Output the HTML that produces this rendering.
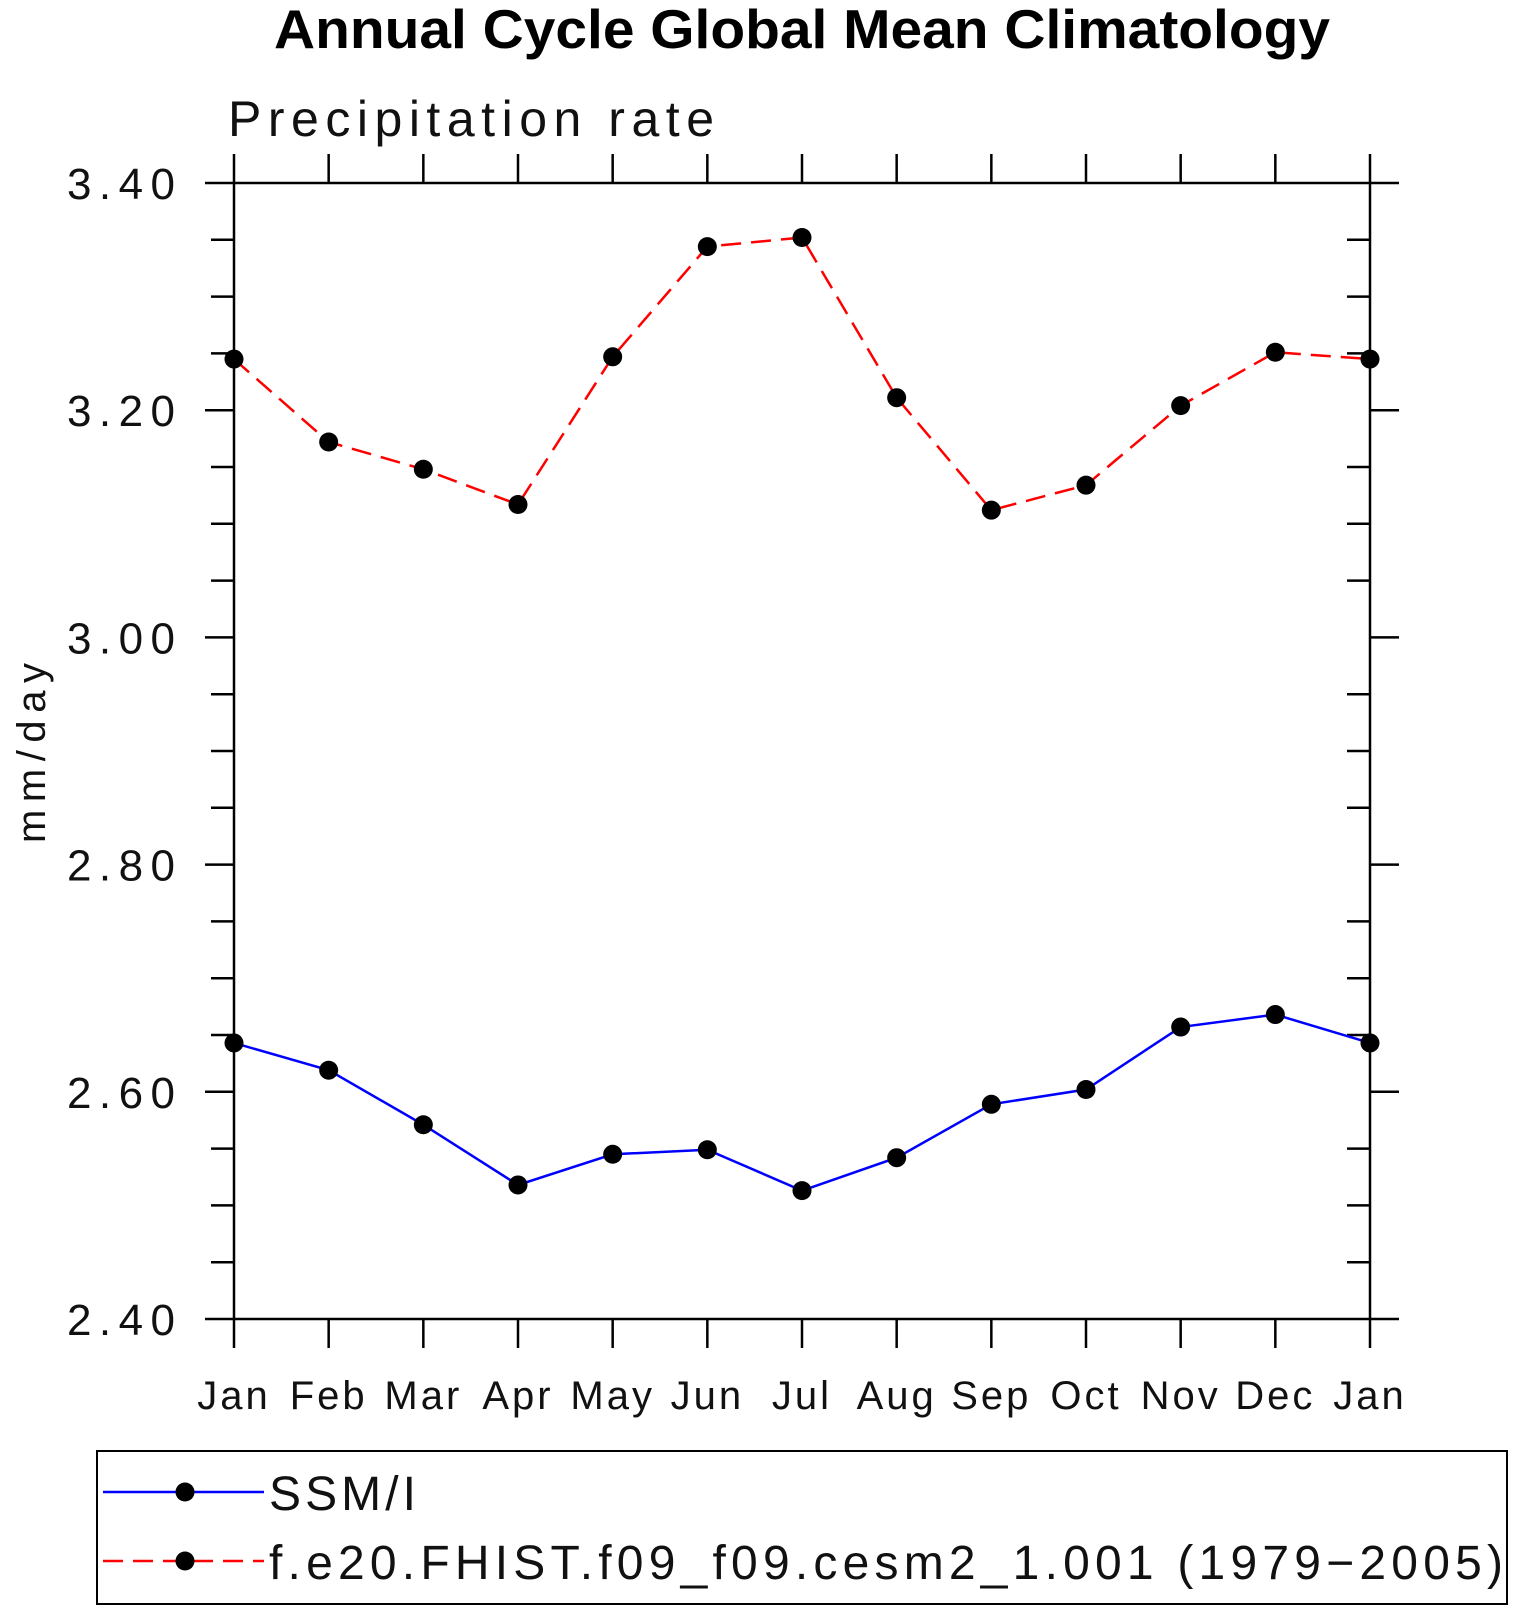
<!DOCTYPE html>
<html><head><meta charset="utf-8"><style>
body{margin:0;background:#fff}
svg{display:block}
text{font-family:"Liberation Sans",sans-serif}
</style></head><body>
<svg id="chart" width="1514" height="1609" viewBox="0 0 1514 1609">
<text x="274" y="48" font-size="55" font-weight="bold" textLength="1056" lengthAdjust="spacingAndGlyphs">Annual Cycle Global Mean Climatology</text>
<text x="228" y="136" font-size="50" fill="#111" textLength="486" lengthAdjust="spacing">Precipitation rate</text>
<text transform="translate(45,753) rotate(-90)" text-anchor="middle" font-size="40" fill="#111" textLength="180" lengthAdjust="spacing">mm/day</text>
<g id="axes"></g>
<g id="series"></g>
<rect x="97" y="1451" width="1410" height="153" fill="none" stroke="#000" stroke-width="2"/>
<g>
<line x1="103" y1="1492" x2="264" y2="1492" stroke="#0000ff" stroke-width="2.5"/>
<circle cx="185" cy="1492" r="9.5" fill="#000"/>
<text x="269" y="1510" font-size="48" fill="#111" textLength="147" lengthAdjust="spacing">SSM/I</text>
</g>
<g>
<line x1="103" y1="1561" x2="264" y2="1561" stroke="#ff0000" stroke-width="2.5" stroke-dasharray="20,10"/>
<circle cx="185" cy="1561" r="9.5" fill="#000"/>
<text x="269" y="1579" font-size="48" fill="#111" textLength="1234" lengthAdjust="spacing">f.e20.FHIST.f09_f09.cesm2_1.001 (1979−2005)</text>
</g>
</svg>
<script>
const months = ["Jan","Feb","Mar","Apr","May","Jun","Jul","Aug","Sep","Oct","Nov","Dec","Jan"];
const ssmiValues = [2.643,2.619,2.571,2.518,2.545,2.549,2.513,2.542,2.589,2.602,2.657,2.668,2.643];
const cesmValues = [3.245,3.172,3.148,3.117,3.247,3.344,3.352,3.211,3.112,3.134,3.204,3.251,3.245];
const yTickLabels = ["2.40","2.60","2.80","3.00","3.20","3.40"];
const yMin = 2.4, yMax = 3.4;

const L=234,R=1370,T=183,B=1319;
const NS="http://www.w3.org/2000/svg";
function xs(i){return L+(R-L)*i/(months.length-1);}
function ys(v){return B-(B-T)*(v-yMin)/(yMax-yMin);}
function mk(tag,attrs,parent){const e=document.createElementNS(NS,tag);for(const k in attrs)e.setAttribute(k,attrs[k]);parent.appendChild(e);return e;}
const ax=document.getElementById('axes');
const frame=mk('rect',{x:L,y:T,width:R-L,height:B-T,fill:'none',stroke:'#000','stroke-width':2.5},ax);


for(let k=0;k<=20;k++){
  const v=yMin+k*0.05, y=ys(v), major=k%4===0;
  mk('line',{x1:major?L-29:L-23,y1:y,x2:L,y2:y,stroke:'#000','stroke-width':2.5},ax);
  if(major) mk('line',{x1:R,y1:y,x2:R+29,y2:y,stroke:'#000','stroke-width':2.5},ax);
  else mk('line',{x1:R-23,y1:y,x2:R,y2:y,stroke:'#000','stroke-width':2.5},ax);
}
yTickLabels.forEach(s=>{
  const t=mk('text',{x:67,y:ys(parseFloat(s))+16,'font-size':44,fill:'#111',textLength:108,lengthAdjust:'spacing'},ax);
  t.textContent=s;
  
  
});
months.forEach((m,i)=>{
  const x=xs(i);
  mk('line',{x1:x,y1:B,x2:x,y2:B+29,stroke:'#000','stroke-width':2.5},ax);
  mk('line',{x1:x,y1:T,x2:x,y2:T-29,stroke:'#000','stroke-width':2.5},ax);
  const t=mk('text',{x:x,y:1409,'text-anchor':'middle','font-size':40,'letter-spacing':3,fill:'#111'},ax);
  t.textContent=m;
  
  
});
const sg=document.getElementById('series');
function drawSeries(vals,color,dash,name){
  const g=mk('g',{},sg);
  
  
  const pts=vals.map((v,i)=>xs(i)+','+ys(v)).join(' ');
  const attrs={points:pts,fill:'none',stroke:color,'stroke-width':2.5};
  if(dash)attrs['stroke-dasharray']=dash;
  mk('polyline',attrs,g);
  vals.forEach((v,i)=>{
    const c=mk('circle',{cx:xs(i),cy:ys(v),r:9.5,fill:'#000'},g);
    
    
  });
}
drawSeries(ssmiValues,'#0000ff',null,'ssmi-series');
drawSeries(cesmValues,'#ff0000','20,10','cesm2-series');
</script>
</body></html>
